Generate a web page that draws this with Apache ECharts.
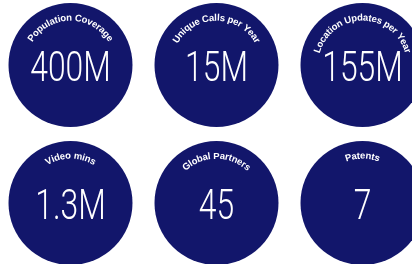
<!DOCTYPE html>
<html>
<head>
<meta charset="utf-8">
<script src="https://cdn.jsdelivr.net/npm/echarts@6/dist/echarts.min.js"></script>
<style>
  html, body { margin: 0; padding: 0; background: #fff; }
  #chart { width: 412px; height: 264px; }
</style>
</head>
<body>
<div id="chart"></div>
<script>
// stat tiles, left to right, top to bottom
const titles = ['Population Coverage', 'Unique Calls per Year', 'Location Updates per Year', 'Video mins', 'Global Partners', 'Patents']
const numbers = [400, 15, 155, 1.3, 45, 7]
const units = ['M', 'M', 'M', 'M', '', '']
const colIdx = [0, 1, 2, 0, 1, 2]
const rowIdx = [0, 0, 0, 1, 1, 1]

const circleColor = '#12166b'
const circleRadius = 62
const arcRadius = 47
const arcFont = 'bold 9.5px "Liberation Sans"'

const measureCtx = document.createElement('canvas').getContext('2d')
measureCtx.font = arcFont

// lay each character on the top arc of the circle
const arcText = (text, cx, cy, r, spacing) => {
  const chars = [...text]
  const widths = chars.map(c => measureCtx.measureText(c).width)
  const total = widths.reduce((a, b) => a + b, 0) + spacing * (chars.length - 1)
  let s = -total / 2
  return chars.map((ch, i) => {
    const mid = s + widths[i] / 2
    s += widths[i] + spacing
    const t = mid / r
    return {
      type: 'text',
      x: cx + r * Math.sin(t),
      y: cy - r * Math.cos(t),
      rotation: -t,
      style: { text: ch, fill: '#fff', font: arcFont, align: 'center', verticalAlign: 'middle' }
    }
  })
}

const renderItem = (params, api) => {
  const i = api.value(2)
  const [cx, cy] = api.coord([api.value(0), api.value(1)])
  return {
    type: 'group',
    children: [
      { type: 'circle', shape: { cx, cy, r: circleRadius }, style: { fill: circleColor } },
      ...arcText(titles[i], cx, cy, arcRadius, 0.1),
      {
        type: 'text',
        x: cx,
        y: cy + 5,
        scaleX: 0.74,
        style: {
          text: numbers[i] + units[i],
          fill: '#fff',
          fontSize: 43,
          fontFamily: 'Roboto',
          fontWeight: 300,
          align: 'center',
          verticalAlign: 'middle'
        }
      }
    ]
  }
}

const chart = echarts.init(document.getElementById('chart'))
chart.setOption({
  animation: false,
  grid: { left: 70.5, right: 49.5, top: 65, bottom: 61 },
  xAxis: { type: 'value', min: 0, max: 2, show: false },
  yAxis: { type: 'value', min: 0, max: 1, inverse: true, show: false },
  series: [{
    type: 'custom',
    clip: false,
    renderItem,
    data: titles.map((t, i) => [colIdx[i], rowIdx[i], i])
  }]
})
</script>
</body>
</html>
